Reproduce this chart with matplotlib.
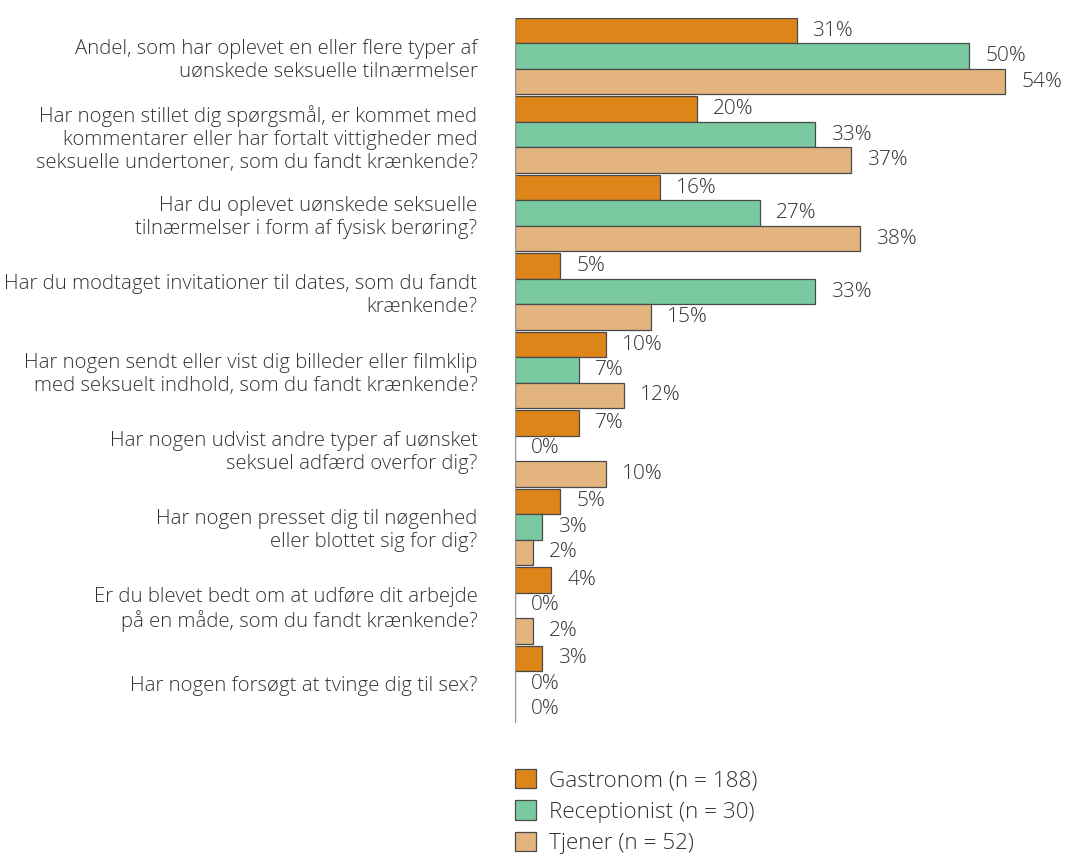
import numpy as np
import matplotlib.pyplot as plt
from matplotlib.patches import Patch

plt.rcParams['font.family'] = ['Open Sans', 'DejaVu Sans']
plt.rcParams['font.weight'] = 'light'

questions = [
    "Andel, som har oplevet en eller flere typer af\nuønskede seksuelle tilnærmelser",
    "Har nogen stillet dig spørgsmål, er kommet med\nkommentarer eller har fortalt vittigheder med\nseksuelle undertoner, som du fandt krænkende?",
    "Har du oplevet uønskede seksuelle\ntilnærmelser i form af fysisk berøring?",
    "Har du modtaget invitationer til dates, som du fandt\nkrænkende?",
    "Har nogen sendt eller vist dig billeder eller filmklip\nmed seksuelt indhold, som du fandt krænkende?",
    "Har nogen udvist andre typer af uønsket\nseksuel adfærd overfor dig?",
    "Har nogen presset dig til nøgenhed\neller blottet sig for dig?",
    "Er du blevet bedt om at udføre dit arbejde\npå en måde, som du fandt krænkende?",
    "Har nogen forsøgt at tvinge dig til sex?",
]
gastronom = [31, 20, 16, 5, 10, 7, 5, 4, 3]
receptionist = [50, 33, 27, 33, 7, 0, 3, 0, 0]
tjener = [54, 37, 38, 15, 12, 10, 2, 2, 0]
series_names = ["Gastronom (n = 188)", "Receptionist (n = 30)", "Tjener (n = 52)"]
colours = ["#DD8519", "#7AC9A1", "#E3B47E"]

text_col = "#333333"
fig = plt.figure(figsize=(10.69, 8.55), dpi=100)
ax = fig.add_axes([515/1069, 1-722/855, 1-515/1069, 704/855])

pitch = 3.08
centres = np.arange(len(questions)) * pitch
for j, (vals, col) in enumerate(zip([gastronom, receptionist, tjener], colours)):
    ys = centres + j + 0.5
    ax.barh(ys, vals, height=1.0, color=col, edgecolor="#4a4a4a", linewidth=0.9)
    for y, v in zip(ys, vals):
        ax.annotate(f"{v}%", (v, y), xytext=(11.5, 0), textcoords="offset points",
                    ha="left", va="center", fontsize=15, color=text_col,
                    annotation_clip=False)

ax.set_ylim(centres[-1] + 3, 0)
ax.set_xlim(0, 61)
ax.set_yticks(centres + 1.5)
ax.set_yticklabels(questions, fontsize=14.7, color=text_col, linespacing=1.2)
ax.tick_params(axis="y", length=0, pad=27)
ax.set_xticks([])
for s in ["top", "right", "bottom"]:
    ax.spines[s].set_visible(False)
ax.spines["left"].set_color("#999999")
ax.spines["left"].set_linewidth(0.8)

handles = [Patch(facecolor=c, edgecolor="#4a4a4a", linewidth=0.9) for c in colours]
fig.legend(handles, series_names, loc="upper left",
           bbox_to_anchor=(515/1069, 1-769/855), frameon=False,
           borderpad=0, borderaxespad=0,
           fontsize=16.2, handlelength=0.95, handleheight=0.95,
           handletextpad=0.55, labelspacing=0.4, labelcolor=text_col)

fig.savefig("out.png", dpi=100)
